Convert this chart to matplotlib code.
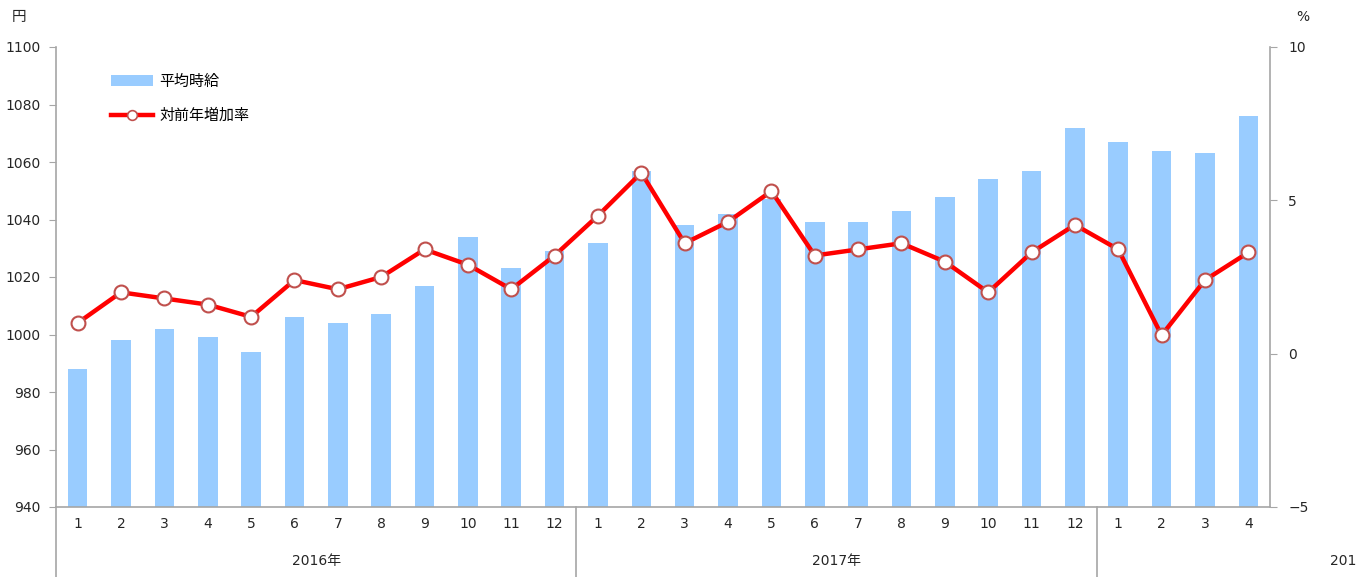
import matplotlib
matplotlib.use('Agg')
import matplotlib.pyplot as plt
import matplotlib.transforms as mtransforms
from matplotlib.lines import Line2D
from matplotlib.patches import Patch

plt.rcParams['font.family'] = ['DejaVu Sans', 'Noto Sans CJK JP']

# data
months = ['1', '2', '3', '4', '5', '6', '7', '8', '9', '10', '11', '12',
          '1', '2', '3', '4', '5', '6', '7', '8', '9', '10', '11', '12',
          '1', '2', '3', '4']
years = ['2016年', '2017年', '201']
wage = [988, 998, 1002, 999, 994, 1006, 1004, 1007, 1017, 1034, 1023, 1029,
        1032, 1057, 1038, 1042, 1047, 1039, 1039, 1043, 1048, 1054, 1057, 1072,
        1067, 1064, 1063, 1076]
growth = [1.0, 2.0, 1.8, 1.6, 1.2, 2.4, 2.1, 2.5, 3.4, 2.9, 2.1, 3.2,
          4.5, 5.9, 3.6, 4.3, 5.3, 3.2, 3.4, 3.6, 3.0, 2.0, 3.3, 4.2,
          3.4, 0.6, 2.4, 3.3]

W, H = 1358, 577
fig = plt.figure(figsize=(W / 100, H / 100), dpi=100)
ax = fig.add_axes([56 / W, (H - 507) / H, 1214 / W, 460 / H])
ax2 = ax.twinx()

grey = '#A6A6A6'
txt = '#262626'
fs = 10
x = list(range(len(months)))

ax.bar(x, wage, width=0.45, color='#99CCFF', zorder=2)
ax.set_ylim(940, 1100)
ax.set_xlim(-0.5, len(months) - 0.5)
ax.set_yticks(range(940, 1101, 20))
ax.set_xticks(x)
ax.set_xticklabels(months)

ax2.plot(x, growth, color='#FF0000', lw=3.2, marker='o', ms=10,
         mfc='white', mec='#C0504D', mew=1.5, zorder=3)
ax2.set_ylim(-5, 10)
ax2.set_yticks([-5, 0, 5, 10])

for a in (ax, ax2):
    a.spines['top'].set_visible(False)
    for s in ('left', 'right', 'bottom'):
        a.spines[s].set_color(grey)
        a.spines[s].set_linewidth(1.2)
ax.spines['right'].set_visible(False)
ax2.spines['left'].set_visible(False)
ax2.spines['bottom'].set_visible(False)

ax.tick_params(axis='y', direction='out', length=5, color=grey, labelsize=fs,
               labelcolor=txt, pad=6)
ax.tick_params(axis='x', length=0, labelsize=fs, labelcolor=txt, pad=7)
ax2.tick_params(axis='y', direction='out', length=5, color=grey, labelsize=fs,
                labelcolor=txt, pad=8)

# group separators and year labels under the axis
trans = mtransforms.blended_transform_factory(ax.transData, ax.transAxes)
for sx in (-0.5, 11.5, 23.5):
    ax.add_line(Line2D([sx, sx], [0, -0.16], transform=trans, color=grey,
                       lw=1.2, clip_on=False))
year_pos = [5.5, 17.5, 29.5]
for yp, yl, ha in zip(year_pos, years, ['center', 'center', 'right']):
    ax.text(yp, -0.117, yl, transform=trans, ha=ha, va='center',
            fontsize=fs, color=txt, clip_on=False)

# unit labels
fig.text(19 / W, 1 - 17 / H, '円', ha='center', va='center', fontsize=fs + 0.5, color=txt)
fig.text(1303 / W, 1 - 17 / H, '%', ha='center', va='center', fontsize=fs, color=txt)

handles = [Patch(facecolor='#99CCFF', edgecolor='none'),
           Line2D([], [], color='#FF0000', lw=3.2, marker='o', ms=7,
                  mfc='white', mec='#C0504D', mew=1.2)]
ax2.legend(handles, ['平均時給', '対前年増加率'], loc='upper left',
           bbox_to_anchor=(98 / W, 1 - 60 / H), bbox_transform=fig.transFigure,
           frameon=False, fontsize=fs + 0.8, handlelength=2.8, handleheight=0.7,
           labelspacing=1.3, handletextpad=0.4)

fig.savefig('out.png', dpi=100)
